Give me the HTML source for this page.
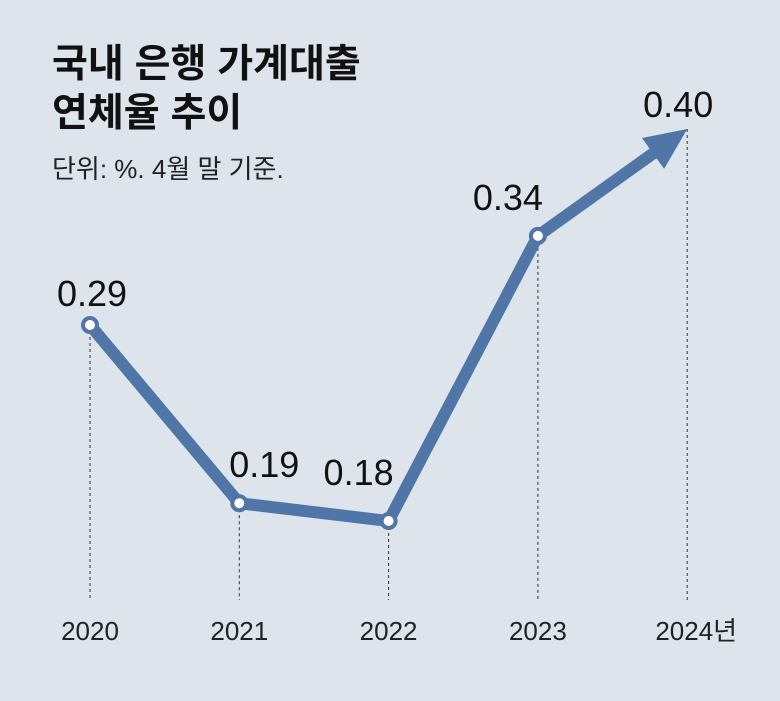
<!DOCTYPE html>
<html><head><meta charset="utf-8"><style>
body{margin:0;background:#dde4ec;}
svg{display:block;font-family:"Liberation Sans","Noto Sans CJK KR",sans-serif;}
</style></head><body>
<svg width="780" height="701" viewBox="0 0 780 701">
<rect width="780" height="701" fill="#dde4ec"/>
<text x="52" y="77" font-size="39" font-weight="bold" fill="#111">국내 은행 가계대출</text>
<text x="52" y="126" font-size="39" font-weight="bold" fill="#111">연체율 추이</text>
<text x="52" y="178" font-size="26" fill="#222">단위: %. 4월 말 기준.</text>
<g id="plot"></g>
</svg>
<script>
const categories=["2020","2021","2022","2023","2024년"];
const values=[0.29,0.19,0.18,0.34,0.40];
const labels=["0.29","0.19","0.18","0.34","0.40"];
const NS="http://www.w3.org/2000/svg";
const g=document.getElementById('plot');
function xs(i){return 90+i*149.3;}
function ys(v){return 325-(v-0.29)*1782;}
function mk(t,a){const e=document.createElementNS(NS,t);for(const k in a)e.setAttribute(k,a[k]);g.appendChild(e);return e;}
const n=values.length;
for(let i=0;i<n;i++){
  const l=mk('line',{x1:xs(i),x2:xs(i),y1:ys(values[i]),y2:600,stroke:'#333','stroke-width':1,'stroke-dasharray':'3,3'});
  
  
  const t=mk('text',{x:xs(i)+(i==n-1?9:0),y:640,'font-size':26,'text-anchor':'middle',fill:'#222'});
  t.textContent=categories[i];
  
  
}
const tx=xs(n-1),ty=ys(values[n-1]),px=xs(n-2),py=ys(values[n-2]);
const dx=tx-px,dy=ty-py,len=Math.hypot(dx,dy),ux=dx/len,uy=dy/len;
const ah=42,aw=19;
const bx=tx-ux*ah,by=ty-uy*ah;
let pts=[];for(let i=0;i<n-1;i++)pts.push(xs(i)+','+ys(values[i]));
pts.push((bx+ux*4)+','+(by+uy*4));
const pl=mk('polyline',{points:pts.join(' '),fill:'none',stroke:'#4f76a6','stroke-width':12,'stroke-linejoin':'round'});


const ar=mk('polygon',{points:`${tx},${ty} ${bx-uy*aw},${by+ux*aw} ${bx+uy*aw},${by-ux*aw}`,fill:'#4f76a6'});


for(let i=0;i<n;i++){
  if(i<n-1){
    const c=mk('circle',{cx:xs(i),cy:ys(values[i]),r:7,fill:'#fff',stroke:'#4f76a6','stroke-width':4});
    
    
  }
  let lx=xs(i),ly=ys(values[i])-20;
  if(i==1){lx+=25;ly-=6;} if(i==2){lx-=30;ly-=16;} if(i==0){lx+=2;ly+=1;} if(i==3){lx-=30;ly-=6;} if(i==4){lx-=9;ly+=8;}
  const t=mk('text',{x:lx,y:ly,'font-size':36,'text-anchor':'middle',fill:'#111'});
  t.textContent=labels[i];
  
  
}
</script>
</body></html>
